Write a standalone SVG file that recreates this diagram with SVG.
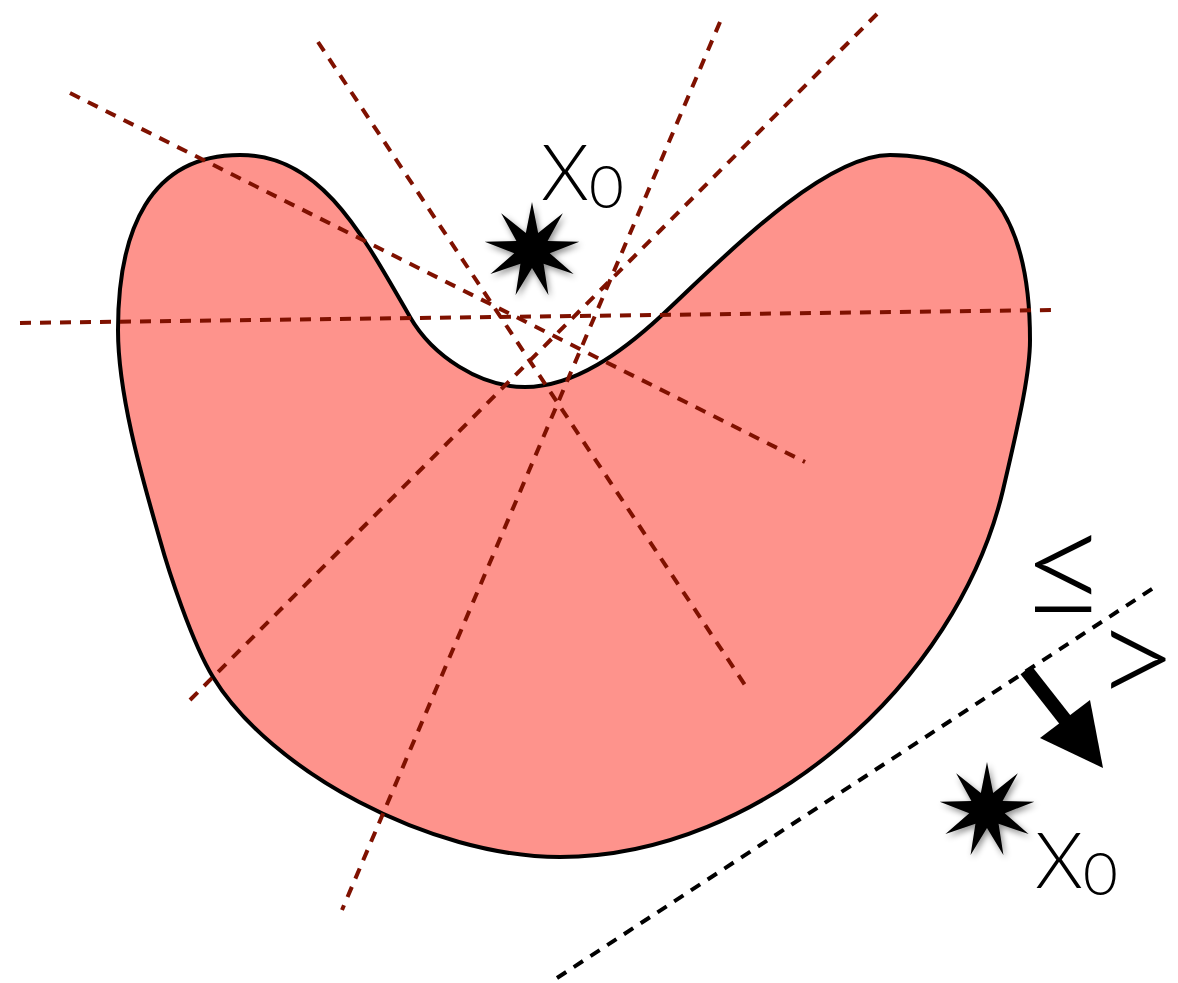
<svg xmlns="http://www.w3.org/2000/svg" width="1178" height="983" viewBox="0 0 1178 983">
<defs>
<style>
.ray{fill:none;stroke:#7f1100;stroke-width:4;stroke-dasharray:11 9}
.sep{fill:none;stroke:#000;stroke-width:4;stroke-dasharray:11 9}
.lbl{font-family:"Lato","Liberation Sans",sans-serif;font-weight:300;fill:#000}
.star{fill:#000;filter:url(#sh)}
</style>
<filter id="sh" x="-50%" y="-50%" width="200%" height="200%">
<feDropShadow dx="2" dy="3" stdDeviation="3" flood-color="#000" flood-opacity="0.45"/>
</filter>
<polygon id="st" points="0,-48 6.16,-16.91 30.85,-36.77 15.59,-9 47.27,-8.34 17.73,3.13 41.57,24 11.57,13.79 16.42,45.11 0,18 -16.42,45.11 -11.57,13.79 -41.57,24 -17.73,3.13 -47.27,-8.34 -15.59,-9 -30.85,-36.77 -6.16,-16.91"/>
</defs>
<rect width="1178" height="983" fill="#fff"/>
<g id="shape">
<path d="M 240 155 C 320 155, 360 230, 410 317 C 432.5 356, 480 387, 525 387 C 575 387, 623 351, 660 317 C 711.5 269.6, 820 155, 890 155 C 985 155, 1030 215, 1030 340 C 1030 370, 1021.4 412, 1003 490 C 957 684, 760 857, 560 857 C 430 857, 270 770.5, 213 677 C 192 643, 168 569, 160 540 C 146.5 492, 118 400, 118 330 C 118 230, 150 155, 240 155 Z" fill="#fe938c" stroke="#000" stroke-width="4"/>
</g>
<g id="connectors">
<line class="ray" x1="70" y1="93" x2="805" y2="462"/>
<line class="ray" x1="20" y1="323" x2="1055" y2="310"/>
<line class="ray" x1="318" y1="42" x2="745" y2="685"/>
<line class="ray" x1="720" y1="22" x2="342" y2="910"/>
<line class="ray" x1="877" y1="14" x2="190" y2="700"/>
<line class="sep" x1="557" y1="978" x2="1155" y2="587"/>
<g id="arrow">
<line x1="1026" y1="670" x2="1066" y2="721" stroke="#000" stroke-width="14"/>
<polygon points="1103,768 1040,738 1090,700" fill="#000"/>
</g>
</g>
<g id="star-top">
<use href="#st" class="star" transform="translate(532,250)"/>
</g>
<g id="star-bottom">
<use href="#st" class="star" transform="translate(987,810)"/>
</g>
<g id="label-top">
<text class="lbl" x="541" y="200" font-size="77">X<tspan font-size="60" dy="8">0</tspan></text>
</g>
<g id="label-bottom">
<text class="lbl" x="1035" y="888" font-size="77">X<tspan font-size="60" dy="7">0</tspan></text>
</g>
<g id="symbols">
<text class="lbl" x="1020" y="618" font-size="150">≤</text>
<text class="lbl" x="1178" y="708" font-size="145" text-anchor="end">&gt;</text>
</g>
</svg>
